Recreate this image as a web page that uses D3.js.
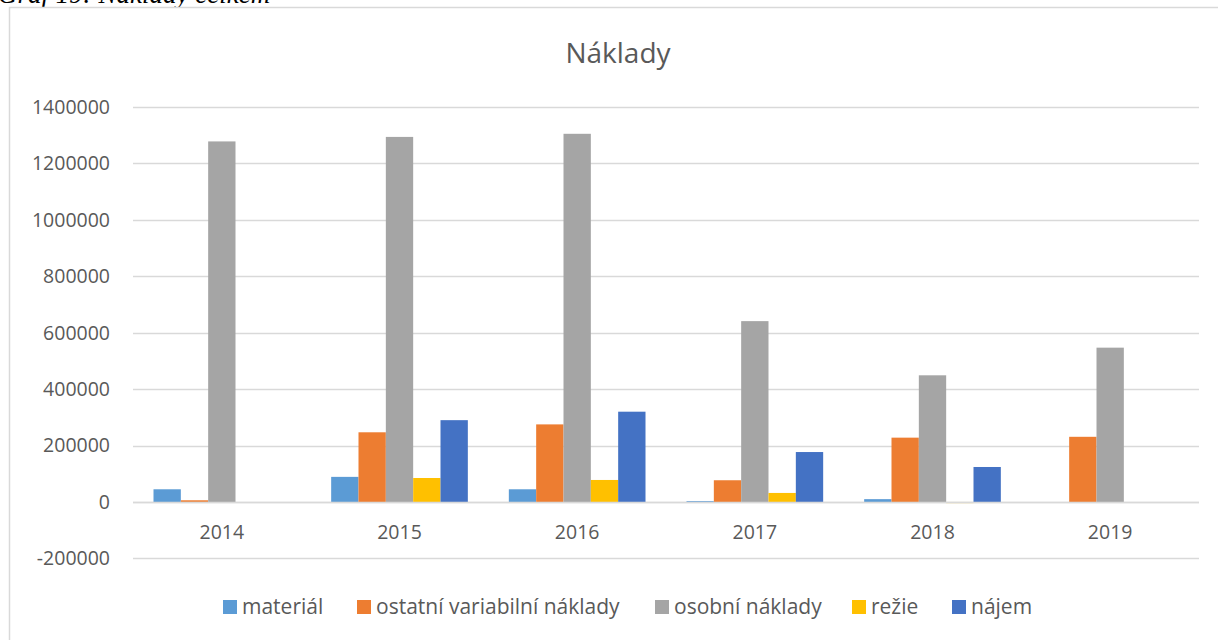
<!DOCTYPE html>
<html>
<head>
<meta charset="utf-8">
<script src="https://cdn.jsdelivr.net/npm/d3@7"></script>
<style>
  body { margin: 0; background: #fff; }
  svg { display: block; }
</style>
</head>
<body>
<div id="chart-container"></div>
<script>
// data
const years = ["2014", "2015", "2016", "2017", "2018", "2019"];
const seriesNames = ["materiál", "ostatní variabilní náklady", "osobní náklady", "režie", "nájem"];
const material  = [45000, 89000, 45000, 3000, 10000, 0];
const ostatni   = [6000, 247000, 275000, 77000, 228000, 231000];
const osobni    = [1278000, 1294000, 1305000, 641000, 449000, 547000];
const rezie     = [0, 85000, 78000, 32000, -4000, 0];
const najem     = [0, 290000, 320000, 177000, 124000, 0];
const yTicks = [-200000, 0, 200000, 400000, 600000, 800000, 1000000, 1200000, 1400000];
const colors = ["#5b9bd5", "#ed7d31", "#a5a5a5", "#ffc000", "#4472c4"];

const seriesValues = [material, ostatni, osobni, rezie, najem];

const W = 1218, H = 640;
const margin = { top: 107, right: 19, bottom: 82, left: 133 };
const width = W - margin.left - margin.right;

const svgRoot = d3.select("#chart-container")
  .append("svg")
    .attr("width", W)
    .attr("height", H);

// caption above the chart (cut off at top in the original)
svgRoot.append("text")
  .attr("x", -2)
  .attr("y", 3)
  .attr("font-family", "Liberation Serif")
  .attr("font-style", "italic")
  .attr("font-size", 27)
  .attr("fill", "#000")
  .text("Graf 19: Náklady celkem");

// chart frame
svgRoot.append("rect")
  .attr("x", 9.5)
  .attr("y", 7.5)
  .attr("width", W + 20)
  .attr("height", H + 20)
  .attr("fill", "#fff")
  .attr("stroke", "#d9d9d9")
  .attr("stroke-width", 1.5);

svgRoot.append("text")
  .attr("x", 618)
  .attr("y", 63)
  .attr("text-anchor", "middle")
  .attr("font-family", "Open Sans")
  .attr("font-size", 28)
  .attr("fill", "#595959")
  .text("Náklady");

const svg = svgRoot.append("g")
  .attr("transform", `translate(${margin.left},0)`);

const y = d3.scaleLinear()
  .domain([-200000, 1400000])
  .range([558.4, 107]);

// 150% gap width between clusters
const groupX = d3.scaleBand().domain(years).range([0, width]).padding(0);
const groupW = groupX.bandwidth();
const barW = groupW / (seriesNames.length + 1.5);
const x1 = d3.scaleBand()
  .domain(d3.range(seriesNames.length))
  .range([0, barW * seriesNames.length]);

// gridlines
svg.append("g")
  .selectAll("line")
  .data(yTicks)
  .join("line")
    .attr("x1", 0)
    .attr("x2", width)
    .attr("y1", d => Math.round(y(d)) + 0.5)
    .attr("y2", d => Math.round(y(d)) + 0.5)
    .attr("stroke", "#d9d9d9")
    .attr("stroke-width", 1.5);

// y labels
svg.append("g")
  .selectAll("text")
  .data(yTicks)
  .join("text")
    .attr("x", -23)
    .attr("y", d => y(d))
    .attr("dy", "0.35em")
    .attr("text-anchor", "end")
    .attr("font-family", "Open Sans")
    .attr("font-size", 19.5)
    .attr("fill", "#595959")
    .text(d => d);

// bars
const groups = svg.append("g")
  .selectAll("g")
  .data(years)
  .join("g")
    .attr("transform", d => `translate(${groupX(d) + (groupW - barW * seriesNames.length) / 2},0)`);

groups.selectAll("rect")
  .data((d, i) => seriesValues.map((vals, s) => ({ s, v: vals[i] })))
  .join("rect")
    .attr("x", d => x1(d.s))
    .attr("width", x1.bandwidth())
    .attr("y", d => y(Math.max(0, d.v)))
    .attr("height", d => Math.abs(y(d.v) - y(0)))
    .attr("fill", d => colors[d.s]);

// zero line on top
svg.append("line")
  .attr("x1", 0)
  .attr("x2", width)
  .attr("y1", Math.round(y(0)) + 0.5)
  .attr("y2", Math.round(y(0)) + 0.5)
  .attr("stroke", "#d9d9d9")
  .attr("stroke-width", 1.5);

// x labels
svg.append("g")
  .selectAll("text")
  .data(years)
  .join("text")
    .attr("x", d => groupX(d) + groupW / 2)
    .attr("y", 539)
    .attr("text-anchor", "middle")
    .attr("font-family", "Open Sans")
    .attr("font-size", 19.5)
    .attr("fill", "#595959")
    .text(d => d);

// legend
const legendX = [223, 357, 655, 852, 952];
const legend = svgRoot.append("g")
  .selectAll("g")
  .data(seriesNames)
  .join("g")
    .attr("transform", (d, i) => `translate(${legendX[i]},600)`);

legend.append("rect")
  .attr("width", 14)
  .attr("height", 14)
  .attr("fill", (d, i) => colors[i]);

legend.append("text")
  .attr("x", 19)
  .attr("y", 14)
  .attr("font-family", "Open Sans")
  .attr("font-size", 21)
  .attr("fill", "#595959")
  .text(d => d);
</script>
</body>
</html>
